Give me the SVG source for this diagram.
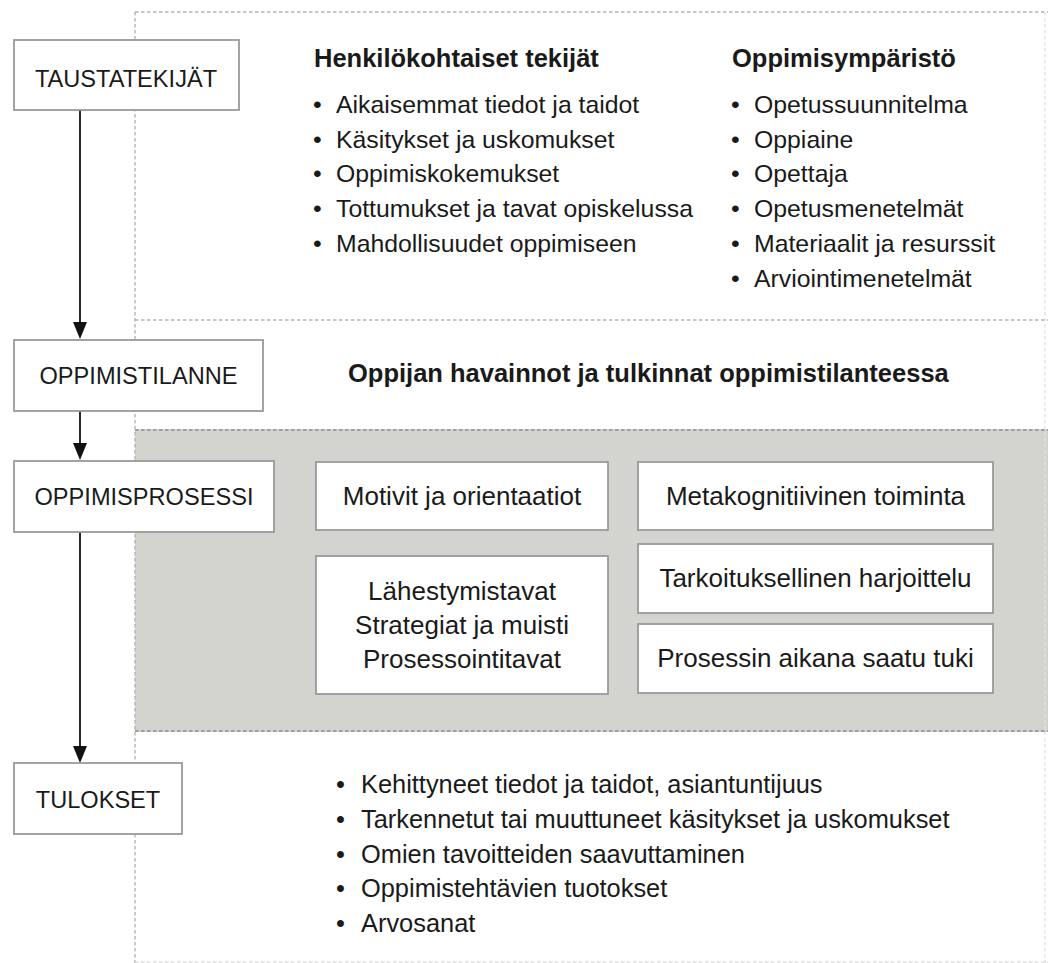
<svg xmlns="http://www.w3.org/2000/svg" width="1048" height="963" viewBox="0 0 1048 963">
<defs>
<style>
.t{font-family:"Liberation Sans",Arial,sans-serif;font-size:24.8px;fill:#1a1a1a}
.u{font-family:"Liberation Sans",Arial,sans-serif;font-size:23.6px;fill:#1a1a1a}
.b{font-family:"Liberation Sans",Arial,sans-serif;font-size:26px;fill:#1a1a1a}
.l{font-family:"Liberation Sans",Arial,sans-serif;font-size:25.4px;fill:#1a1a1a}
.h{font-family:"Liberation Sans",Arial,sans-serif;font-size:25.5px;font-weight:bold;fill:#1a1a1a}
.c{text-anchor:middle}
.box{fill:#fff;stroke:#9a9a9a;stroke-width:1.8}
.dash{stroke:#b4b4b4;stroke-width:1.4;stroke-dasharray:3.5 2.5;fill:none}
.dashd{stroke:#9e9e9e;stroke-width:2;stroke-dasharray:3.5 2.5;fill:none}
.ln{stroke:#111;stroke-width:1.8}
.hd{fill:#111}
</style>
</defs>
<rect width="1048" height="963" fill="#fff"/>
<g id="background">
<rect x="135" y="429" width="913" height="303" fill="#d3d3cf"/>
<line class="dash" x1="135" y1="12" x2="1048" y2="12"/>
<line class="dash" x1="135" y1="12" x2="135" y2="963"/>
<line class="dash" x1="1045" y1="12" x2="1045" y2="963" style="stroke:#e2e2e2"/>
<line class="dash" x1="135" y1="320" x2="1048" y2="320"/>
<line class="dashd" x1="135" y1="430" x2="1048" y2="430"/>
<line class="dashd" x1="135" y1="731" x2="1048" y2="731"/>
<line class="dash" x1="135" y1="962" x2="1048" y2="962" style="stroke:#dedede"/>
</g>
<g id="connectors">
<line class="ln" x1="80" y1="110" x2="80" y2="324"/>
<path class="hd" d="M73,322 L87,322 L80,339 Z"/>
<line class="ln" x1="80" y1="411" x2="80" y2="445"/>
<path class="hd" d="M73,443 L87,443 L80,460 Z"/>
<line class="ln" x1="80" y1="532" x2="80" y2="748"/>
<path class="hd" d="M73,746 L87,746 L80,763 Z"/>
</g>
<g id="taustatekijat">
<rect class="box" x="14" y="40" width="225" height="70"/>
<text class="u c" x="126" y="87">TAUSTATEKIJÄT</text>
</g>
<g id="henkilokohtaiset">
<text class="h" x="314" y="67">Henkilökohtaiset tekijät</text>
<g class="t">
<text x="313" y="113">•</text><text x="336" y="113">Aikaisemmat tiedot ja taidot</text>
<text x="313" y="148">•</text><text x="336" y="148">Käsitykset ja uskomukset</text>
<text x="313" y="182">•</text><text x="336" y="182">Oppimiskokemukset</text>
<text x="313" y="217">•</text><text x="336" y="217">Tottumukset ja tavat opiskelussa</text>
<text x="313" y="252">•</text><text x="336" y="252">Mahdollisuudet oppimiseen</text>
</g>
</g>
<g id="oppimisymparisto">
<text class="h" x="732" y="67">Oppimisympäristö</text>
<g class="t">
<text x="731" y="113">•</text><text x="754" y="113">Opetussuunnitelma</text>
<text x="731" y="148">•</text><text x="754" y="148">Oppiaine</text>
<text x="731" y="182">•</text><text x="754" y="182">Opettaja</text>
<text x="731" y="217">•</text><text x="754" y="217">Opetusmenetelmät</text>
<text x="731" y="252">•</text><text x="754" y="252">Materiaalit ja resurssit</text>
<text x="731" y="287">•</text><text x="754" y="287">Arviointimenetelmät</text>
</g>
</g>
<g id="oppimistilanne">
<rect class="box" x="14" y="340" width="249" height="71"/>
<text class="u c" x="138.5" y="384">OPPIMISTILANNE</text>
</g>
<g id="havainnot">
<text class="h" x="348" y="382">Oppijan havainnot ja tulkinnat oppimistilanteessa</text>
</g>
<g id="oppimisprosessi">
<rect class="box" x="14" y="461" width="260" height="71"/>
<text class="u c" x="144" y="505">OPPIMISPROSESSI</text>
</g>
<g id="motivit">
<rect class="box" x="316" y="462" width="292" height="68"/>
<text class="b c" x="462" y="505">Motivit ja orientaatiot</text>
</g>
<g id="metakognitiivinen">
<rect class="box" x="638" y="462" width="355" height="68"/>
<text class="b c" x="815.5" y="505">Metakognitiivinen toiminta</text>
</g>
<g id="tarkoituksellinen">
<rect class="box" x="638" y="544" width="355" height="69"/>
<text class="b c" x="815.5" y="587">Tarkoituksellinen harjoittelu</text>
</g>
<g id="prosessin-tuki">
<rect class="box" x="638" y="624" width="355" height="69"/>
<text class="b c" x="815.5" y="667">Prosessin aikana saatu tuki</text>
</g>
<g id="lahestymistavat">
<rect class="box" x="316" y="556" width="292" height="138"/>
<text class="b c" x="462" y="600">Lähestymistavat</text>
<text class="b c" x="462" y="634">Strategiat ja muisti</text>
<text class="b c" x="462" y="668">Prosessointitavat</text>
</g>
<g id="tulokset">
<rect class="box" x="14" y="763" width="168" height="71"/>
<text class="u c" x="98" y="808">TULOKSET</text>
</g>
<g id="tulokset-lista">
<g class="l">
<text x="336" y="793">•</text><text x="361" y="793">Kehittyneet tiedot ja taidot, asiantuntijuus</text>
<text x="336" y="828">•</text><text x="361" y="828">Tarkennetut tai muuttuneet käsitykset ja uskomukset</text>
<text x="336" y="863">•</text><text x="361" y="863">Omien tavoitteiden saavuttaminen</text>
<text x="336" y="897">•</text><text x="361" y="897">Oppimistehtävien tuotokset</text>
<text x="336" y="932">•</text><text x="361" y="932">Arvosanat</text>
</g>
</g>
</svg>
